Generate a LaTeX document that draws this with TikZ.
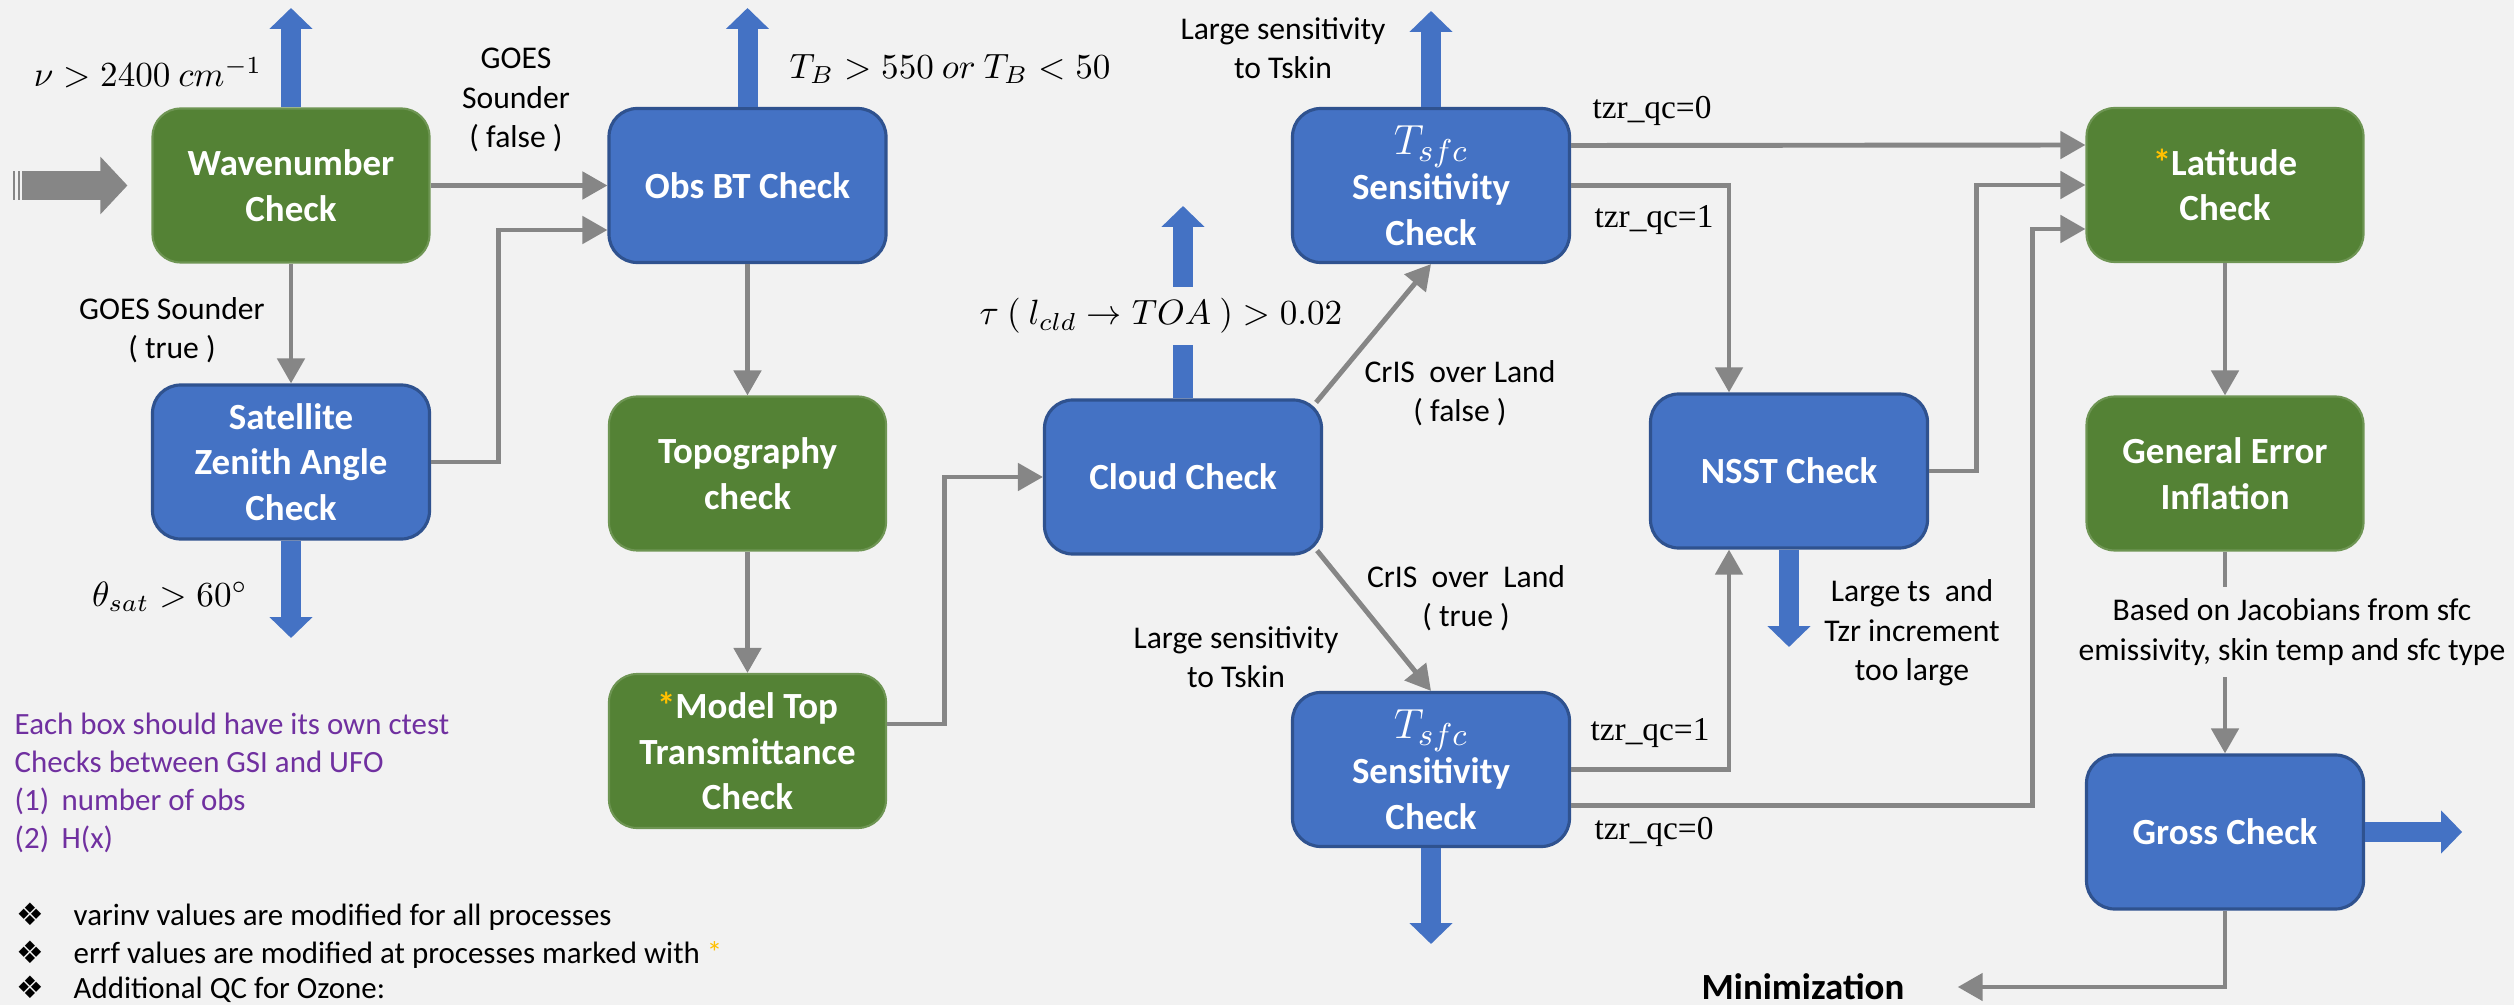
\documentclass[tikz,border=0pt]{standalone}
\usepackage{fontspec}
\setmainfont{Carlito}
\newfontfamily\seriffont{Liberation Serif}
\newfontfamily\symfont{DejaVu Sans}
\usepackage{xcolor}
\usetikzlibrary{positioning, arrows.meta, calc}

\definecolor{boxblue}{HTML}{4472C4}
\definecolor{boxline}{HTML}{2F528F}
\definecolor{boxgreen}{HTML}{548235}
\definecolor{flowgray}{HTML}{868686}
\definecolor{bgc}{HTML}{F2F2F2}
\definecolor{notepurple}{HTML}{7030A0}
\definecolor{starc}{HTML}{FFC000}

\begin{document}
\begin{tikzpicture}[
    font=\fontsize{9}{11.2}\selectfont,
    check/.style={
        rectangle,
        rounded corners=8pt,
        minimum width=2.77cm,
        minimum height=1.54cm,
        inner sep=2pt,
        align=center,
        text=white,
        font=\fontsize{10.5}{13}\selectfont\bfseries
    },
    bluecheck/.style={check, fill=boxblue, draw=boxline, line width=0.9pt},
    greencheck/.style={check, fill=boxgreen, draw=boxgreen!85!white, line width=0.6pt},
    conn/.style={draw=flowgray, line width=1.4pt, -{Triangle[length=0.25cm, width=0.27cm]}},
    rejarrow/.style={draw=boxblue, line width=0.2cm, -{Triangle[length=0.21cm, width=0.42cm]}},
    cond/.style={align=center, font=\fontsize{9}{11.2}\selectfont},
    qc/.style={font=\seriffont\fontsize{9.5}{11}\selectfont},
    limit/.style={font=\fontsize{10}{12}\selectfont},
    note/.style={align=left, anchor=west, inner sep=0pt, font=\fontsize{8.8}{10.8}\selectfont}
]

% Page
\fill[bgc] (0,0) rectangle (25.14,-10.05);
\useasboundingbox (0,0) rectangle (25.14,-10.05);

\def\xa{2.91}
\def\xb{7.475}
\def\xc{11.83}
\def\xd{14.31}
\def\xe{17.89}
\def\xf{22.25}
\def\tsfc{{\fontsize{13}{13}\selectfont$T_{sfc}$}}

% Checks
\node[greencheck] (wave)  at (\xa,-1.855) {Wavenumber\\Check};
\node[bluecheck]  (sat)   at (\xa,-4.62)  {Satellite\\Zenith Angle\\Check};
\node[bluecheck]  (obs)   at (\xb,-1.855) {Obs BT Check};
\node[greencheck] (topo)  at (\xb,-4.735) {Topography\\check};
\node[greencheck] (model) at (\xb,-7.51)  {{\color{starc}*}Model Top\\Transmittance\\Check};
\node[bluecheck]  (cloud) at (\xc,-4.77)  {Cloud Check};
\node[bluecheck]  (tsfca) at (\xd,-1.855) {\tsfc\\Sensitivity\\Check};
\node[bluecheck]  (tsfcb) at (\xd,-7.695) {\tsfc\\Sensitivity\\Check};
\node[bluecheck]  (nsst)  at (\xe,-4.71)  {NSST Check};
\node[greencheck] (lat)   at (\xf,-1.85)  {{\color{starc}*}Latitude\\Check};
\node[greencheck] (gei)   at (\xf,-4.735) {General Error\\Inflation};
\node[bluecheck]  (gross) at (\xf,-8.32)  {Gross Check};

\node[font=\fontsize{10.5}{13}\selectfont\bfseries] (minim) at (18.03,-9.87) {Minimization};

% Input
\coordinate (src) at (0.22,-1.855);
\draw[draw=flowgray, line width=0.29cm, -{Triangle[length=0.27cm, width=0.56cm]}, shorten >=0.24cm] (src) -- (wave.west);
\fill[flowgray] (0.13,-1.71) rectangle ++(0.025,-0.29);
\fill[flowgray] (0.175,-1.71) rectangle ++(0.025,-0.29);

% Rejected obs
\coordinate (waveout)  at (\xa,-0.08);
\coordinate (obsout)   at (\xb,-0.08);
\coordinate (tsfcaout) at (\xd,-0.11);
\coordinate (cloudout) at (\xc,-2.06);
\coordinate (satout)   at (\xa,-6.38);
\coordinate (tsfcbout) at (\xd,-9.44);
\coordinate (nsstout)  at (\xe,-6.47);
\draw[rejarrow] (wave.north) -- (waveout);
\draw[rejarrow] (obs.north) -- (obsout);
\draw[rejarrow] (tsfca.north) -- (tsfcaout);
\draw[rejarrow] (cloud.north) -- (cloudout);
\draw[rejarrow] (sat.south) -- (satout);
\draw[rejarrow] (tsfcb.south) -- (tsfcbout);
\draw[rejarrow] (nsst.south) -- (nsstout);
\draw[rejarrow] (gross.east) -- ++(0.97,0);

% Flow
\draw[conn] (wave.east) -- (obs.west);
\draw[conn] (wave.south) -- (sat.north);
\draw[conn] (sat.east) -- ++(0.67,0) |- ($(obs.west)+(0,-0.445)$);
\draw[conn] (obs.south) -- (topo.north);
\draw[conn] (topo.south) -- (model.north);
\draw[conn] ($(model.east)+(0,0.27)$) -- ++(0.57,0) |- (cloud.west);
\draw[conn] ($(cloud.north east)+(-0.07,-0.04)$) -- (tsfca.south);
\draw[conn] ($(cloud.south east)+(-0.06,0.05)$) -- (tsfcb.north);
\draw[conn] ($(tsfca.east)+(0,0.4)$) -- ($(lat.west)+(0,0.4)$);
\draw[conn] (tsfca.east) -| ($(nsst.north)+(-0.6,0)$);
\draw[conn] (tsfcb.east) -| ($(nsst.south)+(-0.6,0)$);
\draw[conn] (nsst.east) -- ++(0.47,0) |- (lat.west);
\draw[conn] ($(tsfcb.east)+(0,-0.36)$) -- ++(4.61,0) |- ($(lat.west)+(0,-0.44)$);
\draw[conn] (lat.south) -- (gei.north);
\draw[conn] (gei.south) -- (gross.north);
\draw[conn, shorten >=0.41cm] (gross.south) |- (minim.east);

% Conditions
\node[limit] (nu) at (1.48,-0.73) {$\nu > 2400\ cm^{-1}$};
\node[limit] (tb) at (9.50,-0.69) {$T_B > 550\ or\ T_B < 50$};
\node[limit] (theta) at (1.70,-5.97) {$\theta_{sat} > 60^{\circ}$};
\node[limit, fill=bgc] (tau) at (11.61,-3.16) {$\tau\ (\ l_{cld} \rightarrow TOA\ ) > 0.02$};

\node[cond] (gfalse) at (5.16,-1.00) {GOES\\Sounder\\( false )};
\node[cond] (gtrue)  at (1.72,-3.30) {GOES Sounder\\( true )};
\node[cond] (tskina) at (12.83,-0.48) {Large sensitivity\\to Tskin};
\node[cond] (tskinb) at (12.36,-6.57) {Large sensitivity\\to Tskin};
\node[cond] (landf)  at (14.60,-3.93) {CrIS\ \ over Land\\( false )};
\node[cond] (landt)  at (14.66,-5.98) {CrIS\ \ over\ \ Land\\( true )};
\node[cond] (tzrbig) at (19.12,-6.33) {Large ts\ \ and\\Tzr increment\\too large};
\node[cond, fill=bgc] (jac) at (22.92,-6.32) {Based on Jacobians from sfc\\emissivity, skin temp and sfc type};

\node[qc] (qca0) at (16.52,-1.11) {tzr\_qc=0};
\node[qc] (qca1) at (16.54,-2.20) {tzr\_qc=1};
\node[qc] (qcb1) at (16.50,-7.33) {tzr\_qc=1};
\node[qc] (qcb0) at (16.54,-8.32) {tzr\_qc=0};

% Notes
\node[note, text=notepurple] (ctest) at (0.14,-7.83) {Each box should have its own ctest\\Checks between GSI and UFO\\\makebox[0.47cm][l]{(1)}number of obs\\\makebox[0.47cm][l]{(2)}H(x)};
\node[note] (b1) at (0.16,-9.17) {\makebox[0.57cm][l]{\symfont ❖}varinv values are modified for all processes};
\node[note] (b2) at (0.16,-9.55) {\makebox[0.57cm][l]{\symfont ❖}errf values are modified at processes marked with {\color{starc}*}};
\node[note] (b3) at (0.16,-9.89) {\makebox[0.57cm][l]{\symfont ❖}Additional QC for Ozone:};

\end{tikzpicture}
\end{document}
